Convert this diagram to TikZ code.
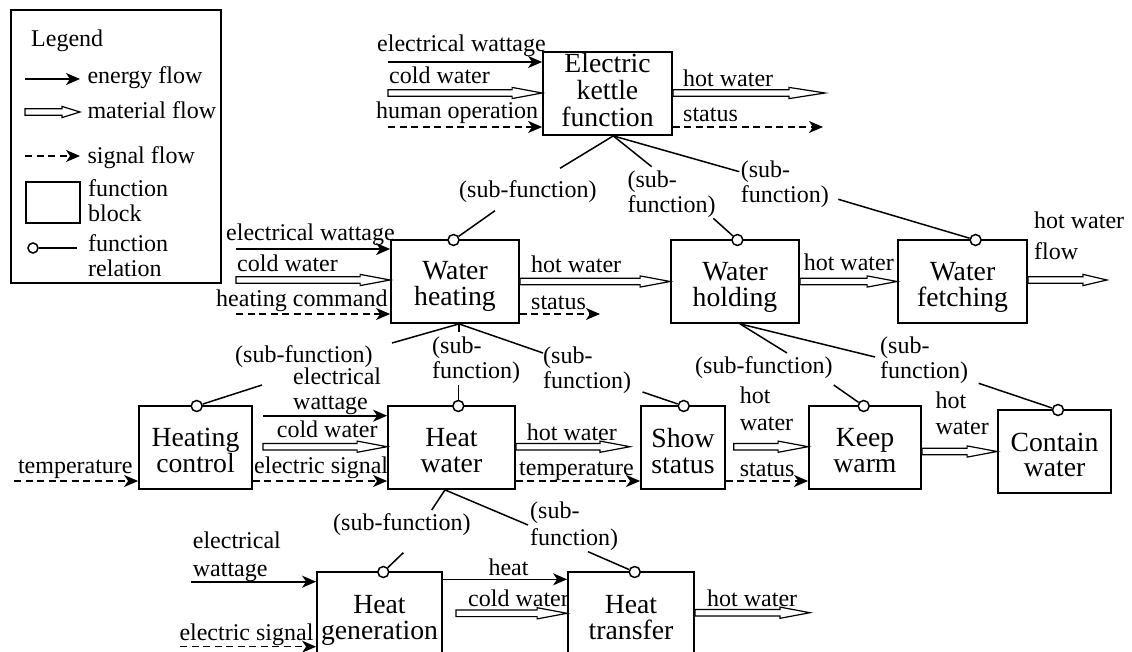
\documentclass[tikz,border=0pt]{standalone}
\usepackage{fontspec}
\setmainfont{Liberation Serif}
\usetikzlibrary{arrows.meta,calc}
\newcommand\smf{\fontsize{24pt}{25pt}\selectfont}
\newcommand\bgf{\fontsize{27.7pt}{25.7pt}\selectfont}
\newcommand\sst{\rule{0pt}{18pt}}
\newcommand\bst{\rule[-7pt]{0pt}{27pt}}
\newcommand\matflow[3][30]{\draw[mat] let \p1=#2, \p2=#3 in (\x1,\y1+3.3pt) -- (\x2-#1pt,\y1+3.3pt) -- (\x2-#1pt,\y1+5.6pt) -- (\x2,\y1) -- (\x2-#1pt,\y1-5.6pt) -- (\x2-#1pt,\y1-3.3pt) -- (\x1,\y1-3.3pt) -- cycle;}
\begin{document}
\begin{tikzpicture}[x=1pt,y=-1pt,
  fblock/.style={draw, line width=1.8pt, inner sep=0pt, minimum height=83pt},
  btext/.style={anchor=north, yshift=20pt, inner sep=0pt, align=center, font=\bgf, execute at begin node=\bst, execute at end node=\bst},
  lbl/.style={anchor=north west, yshift=18pt, inner sep=0pt, align=left, font=\smf, execute at begin node=\sst},
  energy/.style={line width=1.6pt, -{Stealth[length=14pt,width=12pt,inset=4pt]}},
  signal/.style={line width=1.5pt, dash pattern=on 7pt off 4.5pt, -{Stealth[length=14pt,width=12pt,inset=4pt]}},
  mat/.style={line width=1.2pt, fill=white, line join=miter},
  rel/.style={line width=1.5pt},
  relc/.style={circle, draw, line width=1.5pt, fill=white, minimum size=11pt, inner sep=0pt}]
\useasboundingbox (0,0) rectangle (1132,652);
\clip (0,0) rectangle (1132,652);

% ---------- legend ----------
\node[draw, line width=1.5pt, minimum width=210pt, minimum height=273pt, inner sep=0pt] (legend) at (116,146.5) {};
\node[lbl] (lgT) at (31,46.7) {Legend};
\coordinate (le1) at (25,79); \coordinate (le2) at (80,79);
\draw[energy] (le1) -- (le2);
\node[lbl] (lgE) at (87.3,83.3) {energy flow};
\coordinate (lm1) at (25,112); \coordinate (lm2) at (80,112);
\matflow[18]{(lm1)}{(lm2)}
\node[lbl] (lgM) at (87.3,118) {material flow};
\coordinate (ls1) at (25,156); \coordinate (ls2) at (80,156);
\draw[signal] (ls1) -- (ls2);
\node[lbl] (lgS) at (87.3,163) {signal flow};
\node[fblock, line width=1.6pt, minimum width=54pt, minimum height=41pt] (lgB) at (53,202.5) {};
\node[lbl] (lgBT) at (88,197) {function\\block};
\node[relc, minimum size=10pt] (lgC) at (33,248) {};
\coordinate (lgCe) at (77,248);
\draw[rel] (lgC) -- (lgCe);
\node[lbl] (lgRT) at (88,252) {function\\relation};

% ---------- function blocks ----------
\node[fblock, minimum width=129pt] (kettle) at (607.5,93.5) {};
\node[btext] (kettleT) at (607.5,72.7) {Electric\\[1.3pt]kettle\\[1.3pt]function};
\node[fblock, minimum width=128pt] (wh) at (455,281.5) {};
\node[btext] (whT) at (455,281.5) {Water\\heating};
\node[fblock, minimum width=128pt] (who) at (735,281.5) {};
\node[btext] (whoT) at (735,282.5) {Water\\holding};
\node[fblock, minimum width=129pt] (wf) at (962.5,281.5) {};
\node[btext] (wfT) at (962.5,282.5) {Water\\fetching};
\node[fblock, minimum width=113pt] (hc) at (195.5,447.5) {};
\node[btext] (hcT) at (195.5,448.3) {Heating\\control};
\node[fblock, minimum width=127pt] (hw) at (451.5,447.5) {};
\node[btext] (hwT) at (451.5,448.3) {Heat\\water};
\node[fblock, minimum width=84pt] (ss) at (683,447.5) {};
\node[btext] (ssT) at (683,448.3) {Show\\status};
\node[fblock, minimum width=112pt] (kw) at (865,447.5) {};
\node[btext] (kwT) at (865,448.3) {Keep\\warm};
\node[fblock, minimum width=113pt] (cw) at (1054.5,451.5) {};
\node[btext] (cwT) at (1054.5,452.7) {Contain\\water};
\node[fblock, minimum width=125pt] (hg) at (379.5,613.5) {};
\node[btext] (hgT) at (379.5,615) {Heat\\generation};
\node[fblock, minimum width=126pt] (ht) at (631,613.5) {};
\node[btext] (htT) at (631,615) {Heat\\transfer};

% ---------- kettle flows ----------
\coordinate (ki1) at (388,62); \draw[energy] (ki1) -- (ki1 -| kettle.west);
\coordinate (ki2) at (388,93); \matflow{(ki2)}{(ki2 -| kettle.west)}
\coordinate (ki3) at (388,127); \draw[signal] (ki3) -- (ki3 -| kettle.west);
\coordinate (ko1) at (825,93); \matflow[36]{(ko1 -| kettle.east)}{(ko1)}
\coordinate (ko2) at (823,127); \draw[signal] (ko2 -| kettle.east) -- (ko2);
\node[lbl] (kl1) at (377,51.7) {electrical wattage};
\node[lbl] (kl2) at (389,83.3) {cold water};
\node[lbl] (kl3) at (376,118.3) {human operation};
\node[lbl] (kl4) at (683,86) {hot water};
\node[lbl] (kl5) at (683,121.7) {status};

% ---------- water heating row flows ----------
\coordinate (wi1) at (236,249); \draw[energy] (wi1) -- (wi1 -| wh.west);
\coordinate (wi2) at (236,280); \matflow{(wi2)}{(wi2 -| wh.west)}
\coordinate (wi3) at (236,314); \draw[signal] (wi3) -- (wi3 -| wh.west);
\matflow{(wh.east)}{(who.west)}
\coordinate (wso) at (600,314); \draw[signal] (wso -| wh.east) -- (wso);
\matflow{(who.east)}{(wf.west)}
\coordinate (wfo) at (1107,280); \matflow[24]{(wfo -| wf.east)}{(wfo)}
\node[lbl] (wl1) at (226,240) {electrical wattage};
\node[lbl] (wl2) at (237,271.7) {cold water};
\node[lbl] (wl3) at (216,306.7) {heating command};
\node[lbl] (wl4) at (531,272.7) {hot water};
\node[lbl] (wl5) at (531,309) {status};
\node[lbl] (wl6) at (803.6,270.5) {hot water};
\node[lbl] (wl7) at (1034,229.7) {hot water\\[5.6pt]flow};

% ---------- heat water row flows ----------
\coordinate (tin) at (14,481); \draw[signal] (tin) -- (tin -| hc.west);
\coordinate (e3) at (263,415.7); \draw[energy] (e3) -- (e3 -| hw.west);
\coordinate (m3) at (263,446.7); \matflow{(m3)}{(m3 -| hw.west)}
\draw[signal] (hc.east |- tin) -- (hw.west |- tin);
\coordinate (hwo) at (630,446.7); \matflow{(hwo -| hw.east)}{(hwo)}
\draw[signal] (hw.east |- tin) -- (ss.west |- tin);
\coordinate (m4) at (733.7,446.7); \matflow{(m4)}{(m4 -| kw.west)}
\draw[signal] (ss.east |- tin) -- (kw.west |- tin);
\matflow{(cw.west -| kw.east)}{(cw.west)}
\node[lbl] (hl1) at (17.8,473) {temperature};
\node[lbl] (hl2) at (293,385.5) {electrical\\[0.3pt]wattage};
\node[lbl] (hl3) at (276.7,437.3) {cold water};
\node[lbl] (hl4) at (254,473) {electric signal};
\node[lbl] (hl5) at (526.7,440) {hot water};
\node[lbl] (hl6) at (519,475) {temperature};
\node[lbl] (hl7) at (739.7,405) {hot\\[1.7pt]water};
\node[lbl] (hl8) at (739.7,476.7) {status};
\node[lbl] (hl9) at (935.3,409.3) {hot\\[1.7pt]water};

% ---------- bottom row flows ----------
\coordinate (e5) at (191,581.7); \draw[energy] (e5) -- (e5 -| hg.west);
\coordinate (s5) at (180,646.7); \draw[signal] (s5) -- (s5 -| hg.west);
\coordinate (e6) at (442,579.3); \draw[energy] (e6 -| hg.east) -- (e6 -| ht.west);
\coordinate (m6) at (456,613.3); \matflow{(m6)}{(m6 -| ht.west)}
\coordinate (m7) at (810,612.7); \matflow{(m7 -| ht.east)}{(m7)}
\node[lbl] (bl1) at (192.7,550) {electrical\\[2.3pt]wattage};
\node[lbl] (bl2) at (179.3,640) {electric signal};
\node[lbl] (bl3) at (488.3,575) {heat};
\node[lbl] (bl4) at (468,606) {cold water};
\node[lbl] (bl5) at (707,606) {hot water};

% ---------- function relations ----------
\node[lbl] (sf1) at (459,197.3) {(sub-function)};
\node[lbl] (sf2) at (627.3,188.3) {(sub-\\function)};
\node[lbl] (sf3) at (740.7,178.3) {(sub-\\function)};
\node[lbl] (sf4) at (235,362) {(sub-function)};
\node[lbl] (sf5) at (432,355) {(sub-\\function)};
\node[lbl] (sf6) at (543,365) {(sub-\\[-0.7pt]function)};
\node[lbl] (sf7) at (695,373.3) {(sub-function)};
\node[lbl] (sf8) at (880,355) {(sub-\\function)};
\node[lbl] (sf9) at (333,530) {(sub-function)};
\node[lbl] (sf10) at (530,520) {(sub-\\[1.7pt]function)};

\coordinate (kb) at ([xshift=5.8pt]kettle.south);
\coordinate (whb) at ([xshift=4pt]wh.south);
\coordinate (whob) at ([xshift=5pt]who.south);
\coordinate (hwb) at ([xshift=-6.5pt]hw.south);

\node[relc] (cwh) at (453.5,240) {};
\node[relc] (cwho) at (737.4,240) {};
\node[relc] (cwf) at (975.6,240) {};
\node[relc] (chc) at (196.7,406) {};
\node[relc] (chw) at (458.3,406) {};
\node[relc] (css) at (683.7,406) {};
\node[relc] (ckw) at (863.7,406) {};
\node[relc] (ccw) at (1058,410) {};
\node[relc] (chg) at (383.3,572) {};
\node[relc] (cht) at (634.7,572) {};

\coordinate (r1a) at (560,168.3); \coordinate (r1b) at (495,210.7);
\coordinate (r2a) at (651.7,166.7); \coordinate (r2b) at (713.3,218.3);
\coordinate (r3a) at (739.3,171.7); \coordinate (r3b) at (838.3,199.3);
\coordinate (r4a) at (392,343); \coordinate (r4b) at (262,385);
\coordinate (r5a) at (459,332); \coordinate (r5b) at (458.3,385);
\coordinate (r6a) at (543,353); \coordinate (r6b) at (642.5,392);
\coordinate (r7a) at (787,353); \coordinate (r7b) at (833.7,385);
\coordinate (r8a) at (875,357); \coordinate (r8b) at (978.7,383.3);
\coordinate (r9a) at (431.7,510); \coordinate (r9b) at (403.3,552.7);
\coordinate (r10a) at (528,525); \coordinate (r10b) at (588,551.7);

\draw[rel] (kb) -- (r1a); \draw[rel] (r1b) -- (cwh);
\draw[rel] (kb) -- (r2a); \draw[rel] (r2b) -- (cwho);
\draw[rel] (kb) -- (r3a); \draw[rel] (r3b) -- (cwf);
\draw[rel] (whb) -- (r4a); \draw[rel] (r4b) -- (chc);
\draw[rel] (whb) -- (r5a); \draw[rel] (r5b) -- (chw);
\draw[rel] (whb) -- (r6a); \draw[rel] (r6b) -- (css);
\draw[rel] (whob) -- (r7a); \draw[rel] (r7b) -- (ckw);
\draw[rel] (whob) -- (r8a); \draw[rel] (r8b) -- (ccw);
\draw[rel] (hwb) -- (r9a); \draw[rel] (r9b) -- (chg);
\draw[rel] (hwb) -- (r10a); \draw[rel] (r10b) -- (cht);
\end{tikzpicture}
\end{document}
